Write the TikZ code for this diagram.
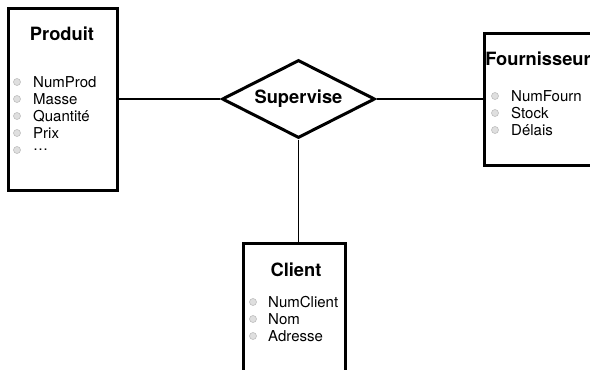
\documentclass[tikz,border=0pt]{standalone}
\usepackage{fontspec}
\setmainfont{TeX Gyre Heros}
\usetikzlibrary{shapes.geometric}

\tikzset{
  entity/.style={draw=black, line width=3pt, fill=white, rectangle, inner sep=0pt},
  relation/.style={draw=black, line width=3pt, fill=white, diamond, aspect=2,
    inner sep=0pt, minimum width=153pt, minimum height=78pt,
    font=\fontsize{18.3}{20}\selectfont\bfseries},
  title/.style={font=\fontsize{18.3}{20}\selectfont\bfseries, inner sep=0pt},
  attr/.style={font=\fontsize{15}{17}\selectfont, anchor=west, inner sep=0pt},
  bullet/.style={circle, draw=gray!50, fill=gray!25, line width=0.6pt,
    minimum size=7pt, inner sep=0pt},
  link/.style={draw=black, line width=1.2pt}
}

\begin{document}
\begin{tikzpicture}[x=1pt, y=-1pt]
  \useasboundingbox (0,0) rectangle (590,370);

  % entity boxes
  \node[entity, minimum width=109pt, minimum height=182pt] (produit) at (62.5,99) {};
  \node[entity, minimum width=108pt, minimum height=132pt] (fourn) at (538,99) {};
  \node[entity, minimum width=102pt, minimum height=140pt] (client) at (294,313) {};

  % relationship
  \node[relation] (sup) at (298.5,99) {Supervise};

  % connectors
  \draw[link] (produit) -- (sup);
  \draw[link] (sup) -- (fourn);
  \draw[link] (sup.south) -- (sup.south |- client.north);

  % titles
  \node[title] (tprod) at (62,34) {Produit};
  \node[title] (tfourn) at (538,59) {Fournisseur};
  \node[title] (tclient) at (296,270) {Client};

  % attributes of Produit
  \foreach \t [count=\i] in {NumProd, Masse, Quantité, Prix, …} {
    \node[bullet] (bp\i) at (17,{82+17*(\i-1)}) {};
    \node[attr] (ap\i) at (33,{82+17*(\i-1)}) {\t};
  }
  % attributes of Fournisseur
  \foreach \t [count=\i] in {NumFourn, Stock, Délais} {
    \node[bullet] (bf\i) at (495,{96+17*(\i-1)}) {};
    \node[attr] (af\i) at (511,{96+17*(\i-1)}) {\t};
  }
  % attributes of Client
  \foreach \t [count=\i] in {NumClient, Nom, Adresse} {
    \node[bullet] (bc\i) at (253,{302+17*(\i-1)}) {};
    \node[attr] (ac\i) at (268,{302+17*(\i-1)}) {\t};
  }
\end{tikzpicture}
\end{document}
